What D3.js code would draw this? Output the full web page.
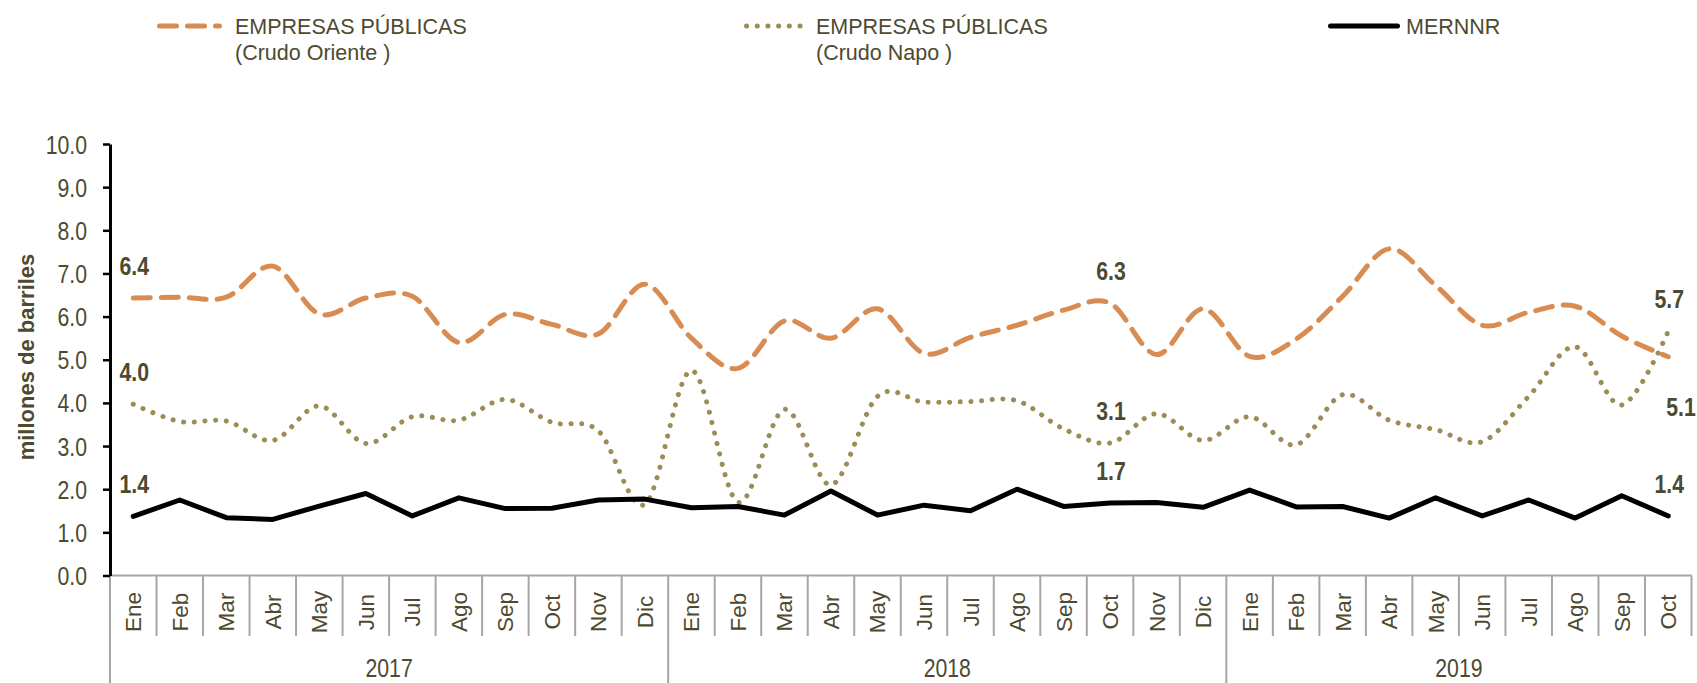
<!DOCTYPE html>
<html>
<head>
<meta charset="utf-8">
<script src="https://cdn.jsdelivr.net/npm/d3@7"></script>
<style>
  body { margin: 0; background: #fff; }
  svg { display: block; }
  text { fill: #4e4a30; font-family: "Liberation Sans", Arial, sans-serif; }
  .y-axis path, .y-axis line { stroke: #000; }
</style>
</head>
<body>
<div id="chart"></div>
<script>
// data
const years = ["2017", "2018", "2019"];
const monthsPerYear = [12, 12, 10];
const months = ["Ene", "Feb", "Mar", "Abr", "May", "Jun", "Jul", "Ago", "Sep", "Oct", "Nov", "Dic"];

const oriente = [6.43, 6.45, 6.45, 7.17, 6.06, 6.43, 6.47, 5.4, 6.05, 5.82, 5.6, 6.75,
  5.5, 4.8, 5.9, 5.5, 6.18, 5.15, 5.52, 5.8, 6.15, 6.31, 5.12, 6.18,
  5.08, 5.48, 6.47, 7.57, 6.72, 5.8, 6.1, 6.24, 5.55, 5.07];
const napo = [3.97, 3.57, 3.58, 3.13, 3.93, 3.06, 3.68, 3.6, 4.08, 3.55, 3.35, 1.65,
  4.75, 1.7, 3.85, 2.1, 4.15, 4.02, 4.03, 4.05, 3.4, 3.07, 3.75, 3.13,
  3.68, 3.03, 4.19, 3.6, 3.38, 3.1, 4.15, 5.3, 3.95, 5.66];
const mernnr = [1.37, 1.75, 1.34, 1.3, 1.61, 1.9, 1.38, 1.8, 1.55, 1.56, 1.75, 1.77,
  1.57, 1.6, 1.4, 1.96, 1.4, 1.63, 1.5, 2.0, 1.6, 1.68, 1.69, 1.58,
  1.98, 1.59, 1.6, 1.33, 1.8, 1.38, 1.75, 1.33, 1.85, 1.38];

const yTicks = [0, 1, 2, 3, 4, 5, 6, 7, 8, 9, 10];

// labelled points: index of month + text
const labelPoints = [
  { key: "oriente", i: 0, text: "6.4" },
  { key: "napo", i: 0, text: "4.0" },
  { key: "mernnr", i: 0, text: "1.4" },
  { key: "oriente", i: 21, text: "6.3" },
  { key: "napo", i: 21, text: "3.1" },
  { key: "mernnr", i: 21, text: "1.7" },
  { key: "napo", i: 33, text: "5.7" },
  { key: "oriente", i: 33, text: "5.1", side: "right" },
  { key: "mernnr", i: 33, text: "1.4" },
];

//categories
const categories = [];
years.forEach((y, yi) => {
  for (let m = 0; m < monthsPerYear[yi]; m++) {
    categories.push({ id: y + "-" + months[m], month: months[m], year: y });
  }
});

const series = [
  { key: "oriente", name: ["EMPRESAS PÚBLICAS", "(Crudo Oriente )"], values: oriente,
    color: "#d98c52", width: 5, dash: "17,11", cap: "round", smooth: true, lx: 157, lw: 65 },
  { key: "napo", name: ["EMPRESAS PÚBLICAS", "(Crudo Napo )"], values: napo,
    color: "#9b8d55", width: 5, dash: "0.1,10.6", cap: "round", smooth: true, lx: 744, lw: 59 },
  { key: "mernnr", name: ["MERNNR"], values: mernnr,
    color: "#000", width: 5, dash: null, cap: "round", smooth: false, lx: 1328, lw: 72 },
];

// narrow text (no Arial Narrow available): squeeze horizontally
const squeeze = 0.85;

//size
const width = 1697;
const height = 683;

//scale
const xScale = d3.scaleBand()
  .domain(categories.map((d) => d.id))
  .range([110, 1691.5])
  .paddingInner(0).paddingOuter(0);

const yScale = d3.scaleLinear()
  .domain([0, 10])
  .range([575.5, 144]);

const cx = (i) => xScale(categories[i].id) + xScale.bandwidth() / 2;

const svg = d3.select("#chart")
  .append("svg")
  .attr("width", width)
  .attr("height", height);

//category axis (gray)
const axisY = yScale(0);
svg.append("line")
  .attr("x1", xScale.range()[0]).attr("x2", xScale.range()[1])
  .attr("y1", axisY).attr("y2", axisY)
  .attr("stroke", "#a6a6a6").attr("stroke-width", 2);

const yearStart = [0];
monthsPerYear.forEach((n, i) => yearStart.push(yearStart[i] + n));

const dividers = d3.range(categories.length + 1).map((i) => ({
  x: i < categories.length ? xScale(categories[i].id) : xScale.range()[1],
  tall: yearStart.slice(0, 3).includes(i),
}));

svg.selectAll("line.divider")
  .data(dividers)
  .join("line")
  .attr("class", "divider")
  .attr("x1", (d) => d.x).attr("x2", (d) => d.x)
  .attr("y1", axisY)
  .attr("y2", (d) => (d.tall ? height : 636))
  .attr("stroke", "#a6a6a6").attr("stroke-width", 2);

svg.selectAll("text.month")
  .data(categories)
  .join("text")
  .attr("class", "month")
  .attr("transform", (d, i) => `translate(${cx(i) + 8},612) rotate(-90)`)
  .attr("text-anchor", "middle")
  .style("font-size", "22.5px")
  .text((d) => d.month);

svg.selectAll("text.year")
  .data(years)
  .join("text")
  .attr("class", "year")
  .attr("transform", (d, i) => {
    const x0 = xScale(categories[yearStart[i]].id);
    const x1 = i < 2 ? xScale(categories[yearStart[i + 1]].id) : xScale.range()[1];
    return `translate(${(x0 + x1) / 2},677) scale(${squeeze},1)`;
  })
  .attr("text-anchor", "middle")
  .style("font-size", "25px")
  .text((d) => d);

//value axis
const yAxis = d3.axisLeft(yScale)
  .tickValues(yTicks)
  .tickFormat(d3.format(".1f"))
  .tickSize(7)
  .tickSizeOuter(0)
  .tickPadding(0);

const gy = svg.append("g")
  .attr("class", "y-axis")
  .attr("transform", `translate(110,0)`)
  .call(yAxis);
gy.select("path.domain").attr("stroke-width", 3);
gy.selectAll(".tick line").attr("stroke-width", 2.5);
gy.selectAll(".tick text")
  .attr("x", null)
  .attr("dy", null)
  .attr("transform", `translate(-23,9) scale(${squeeze},1)`)
  .attr("fill", "#4e4a30")
  .style("font-size", "25px");

svg.append("text")
  .attr("transform", `translate(34,357) rotate(-90)`)
  .attr("text-anchor", "middle")
  .style("font-size", "22px")
  .style("font-weight", "bold")
  .text("millones de barriles");

//lines
svg.selectAll("path.series")
  .data(series)
  .join("path")
  .attr("class", "series")
  .attr("fill", "none")
  .attr("stroke", (d) => d.color)
  .attr("stroke-width", (d) => d.width)
  .attr("stroke-dasharray", (d) => d.dash)
  .attr("stroke-linecap", (d) => d.cap)
  .attr("stroke-linejoin", "round")
  .attr("d", (d) =>
    d3.line()
      .x((v, i) => cx(i))
      .y((v) => yScale(v))
      .curve(d.smooth ? d3.curveCardinal.tension(0) : d3.curveLinear)(d.values)
  );

//data labels
const byKey = Object.fromEntries(series.map((s) => [s.key, s]));
svg.selectAll("text.value")
  .data(labelPoints)
  .join("text")
  .attr("class", "value")
  .attr("transform", (d) => {
    const x = cx(d.i) + (d.side === "right" ? -2 : 1);
    const y = yScale(byKey[d.key].values[d.i]) + (d.side === "right" ? 59 : -23);
    return `translate(${x},${y}) scale(${squeeze},1)`;
  })
  .attr("text-anchor", (d) => (d.side === "right" ? "start" : "middle"))
  .style("font-size", "25px")
  .style("font-weight", "bold")
  .text((d) => d.text);

//legend
const legend = svg.selectAll("g.legend-item")
  .data(series)
  .join("g")
  .attr("class", "legend-item");

legend.append("line")
  .attr("x1", (d) => d.lx + d.width / 2)
  .attr("x2", (d) => d.lx + d.lw - d.width / 2)
  .attr("y1", 26).attr("y2", 26)
  .attr("stroke", (d) => d.color)
  .attr("stroke-width", (d) => d.width)
  .attr("stroke-dasharray", (d) => d.dash)
  .attr("stroke-linecap", (d) => d.cap);

legend.append("text")
  .attr("y", 33.5)
  .style("font-size", "21.5px")
  .selectAll("tspan")
  .data((d) => d.name.map((t) => ({ t, x: d.lx + d.lw + (d.key === "mernnr" ? 6 : 13) })))
  .join("tspan")
  .attr("x", (d) => d.x)
  .attr("dy", (d, i) => (i === 0 ? 0 : 26))
  .text((d) => d.t);
</script>
</body>
</html>
